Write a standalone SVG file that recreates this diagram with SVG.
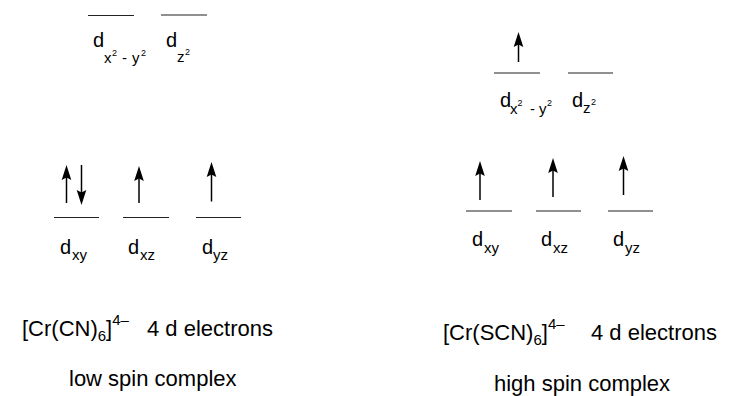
<svg xmlns="http://www.w3.org/2000/svg" width="736" height="396" viewBox="0 0 736 396">
<style>
text{font-family:"Liberation Sans",Arial,sans-serif;fill:#000}
.d{font-size:20px}
.s{font-size:15px}
.p{font-size:9px}
.t{font-size:22px}
.lv{stroke:#222;stroke-width:1.2}
.ar{stroke:#000;stroke-width:1.5}
</style>
<defs>
<path id="up" d="M0,0 L-4.8,15 L0,12.5 L4.8,15 Z" fill="#000"/>
</defs>
<g id="low-eg-x2y2">
<line class="lv" x1="88" y1="15.5" x2="134" y2="15.5"/>
<text class="d" x="93" y="47">d</text>
<text class="s" x="104" y="63">x</text><text class="p" x="112" y="56">2</text>
<text class="s" x="122" y="63">-</text>
<text class="s" x="132" y="63">y</text><text class="p" x="141" y="56">2</text>
</g>
<g id="low-eg-z2">
<line class="lv" x1="161" y1="15" x2="207" y2="15"/>
<text class="d" x="166" y="47">d</text>
<text class="s" x="177" y="62">z</text><text class="p" x="185" y="55">2</text>
</g>
<g id="low-t2g-xy">
<line class="lv" x1="54" y1="217.5" x2="99" y2="217.5"/>
<text class="d" x="60" y="254">d</text>
<text class="s" x="72" y="260">xy</text>
</g>
<g id="low-t2g-xz">
<line class="lv" x1="123" y1="217.5" x2="169" y2="217.5"/>
<text class="d" x="128" y="254">d</text>
<text class="s" x="140" y="260">xz</text>
</g>
<g id="low-t2g-yz">
<line class="lv" x1="196" y1="217.5" x2="241" y2="217.5"/>
<text class="d" x="202" y="254">d</text>
<text class="s" x="213" y="260">yz</text>
</g>
<g id="high-eg-x2y2">
<line class="lv" x1="494" y1="73" x2="540" y2="73"/>
<text class="d" x="500" y="107">d</text>
<text class="s" x="510" y="114">x</text><text class="p" x="517.5" y="106">2</text>
<text class="s" x="530" y="114">-</text>
<text class="s" x="539" y="114">y</text><text class="p" x="547" y="106">2</text>
</g>
<g id="high-eg-z2">
<line class="lv" x1="568" y1="73" x2="613" y2="73"/>
<text class="d" x="572" y="107">d</text>
<text class="s" x="583" y="113">z</text><text class="p" x="591" y="105">2</text>
</g>
<g id="high-t2g-xy">
<line class="lv" x1="466" y1="211" x2="512" y2="211"/>
<text class="d" x="472" y="246">d</text>
<text class="s" x="484" y="253">xy</text>
</g>
<g id="high-t2g-xz">
<line class="lv" x1="536" y1="211" x2="581" y2="211"/>
<text class="d" x="541" y="246">d</text>
<text class="s" x="553" y="253">xz</text>
</g>
<g id="high-t2g-yz">
<line class="lv" x1="608" y1="211" x2="653" y2="211"/>
<text class="d" x="613" y="246">d</text>
<text class="s" x="625" y="253">yz</text>
</g>
<g id="electrons">
<line class="ar" x1="66.5" y1="203" x2="66.5" y2="176"/><use href="#up" x="66.5" y="165"/>
<line class="ar" x1="81.5" y1="165" x2="81.5" y2="194"/><use href="#up" transform="translate(81.5,205) rotate(180)"/>
<line class="ar" x1="139" y1="203" x2="139" y2="177"/><use href="#up" x="139" y="166"/>
<line class="ar" x1="211.5" y1="201.5" x2="211.5" y2="173"/><use href="#up" x="211.5" y="162"/>
<line class="ar" x1="518.5" y1="62" x2="518.5" y2="43"/><use href="#up" x="518.5" y="32"/>
<line class="ar" x1="480" y1="200" x2="480" y2="172"/><use href="#up" x="480" y="161"/>
<line class="ar" x1="553" y1="197" x2="553" y2="169"/><use href="#up" x="553" y="158"/>
<line class="ar" x1="623.5" y1="195" x2="623.5" y2="167"/><use href="#up" x="623.5" y="156"/>
</g>
<g id="label-low">
<text class="t" x="22" y="336">[Cr(CN)<tspan font-size="15" dy="5">6</tspan><tspan dy="-5">]</tspan><tspan font-size="15" dy="-11">4–</tspan><tspan dy="11" x="147">4 d electrons</tspan></text>
<text class="t" x="69" y="386">low spin complex</text>
</g>
<g id="label-high">
<text class="t" x="443" y="340">[Cr(SCN)<tspan font-size="15" dy="5">6</tspan><tspan dy="-5">]</tspan><tspan font-size="15" dy="-11">4–</tspan><tspan dy="11" x="591">4 d electrons</tspan></text>
<text class="t" x="494" y="391">high spin complex</text>
</g>
</svg>
